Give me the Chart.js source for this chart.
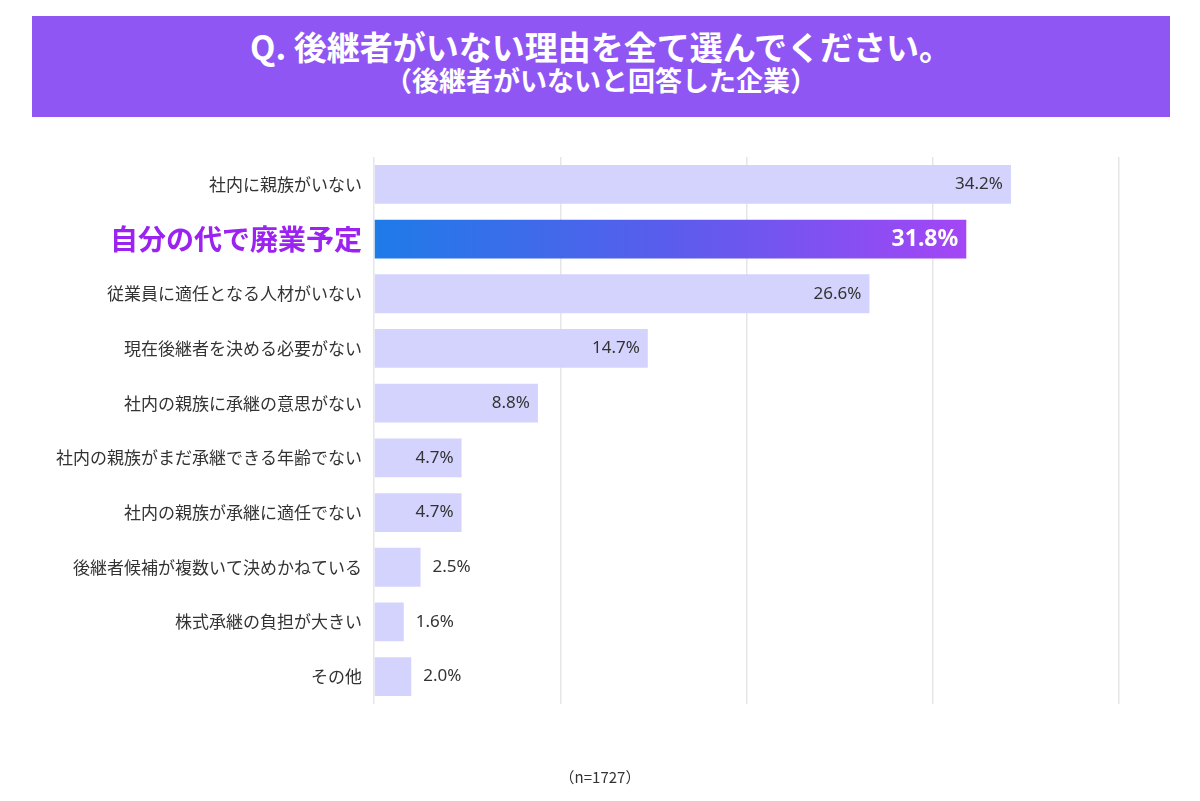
<!DOCTYPE html>
<html lang="ja">
<head>
<meta charset="utf-8">
<title>後継者がいない理由</title>
<script src="https://cdn.jsdelivr.net/npm/chart.js@4"></script>
<style>
  html, body { margin: 0; padding: 0; background: #fff; }
  #wrap { position: relative; width: 1200px; height: 801px; overflow: hidden; }
  #header {
    position: absolute; left: 32px; top: 16px; width: 1138px; height: 101px;
    background: #8f56f4; color: #fff; text-align: center;
    font-family: "Noto Sans CJK JP", sans-serif; font-weight: 700;
  }
  #header .q { position: absolute; left: 0; right: 0; top: 13px; font-size: 33px; line-height: 34px; }
  #header .sub { position: absolute; left: 0; right: 0; top: 50px; font-size: 27px; line-height: 28px; }
  #note {
    position: absolute; left: 0; right: 0; top: 766px; text-align: center;
    font-family: "Noto Sans CJK JP", sans-serif; font-size: 15px; color: #333;
  }
  canvas { position: absolute; left: 0; top: 0; }
</style>
</head>
<body>
<div id="wrap">
  <canvas id="reasonChart" width="1200" height="801"></canvas>
  <div id="header">
    <div class="q">Q. 後継者がいない理由を全て選んでください。</div>
    <div class="sub">（後継者がいないと回答した企業）</div>
  </div>
  <div id="note">（n=1727）</div>
</div>
<script>
const reasons = [
  "社内に親族がいない",
  "自分の代で廃業予定",
  "従業員に適任となる人材がいない",
  "現在後継者を決める必要がない",
  "社内の親族に承継の意思がない",
  "社内の親族がまだ承継できる年齢でない",
  "社内の親族が承継に適任でない",
  "後継者候補が複数いて決めかねている",
  "株式承継の負担が大きい",
  "その他"
];
const shares = [34.2, 31.8, 26.6, 14.7, 8.8, 4.7, 4.7, 2.5, 1.6, 2.0];
const xTicks = [0, 10, 20, 30, 40];
const highlightIndex = 1;

const labelFont = "'Noto Sans', sans-serif";

function barColor(ctx) {
  if (ctx.dataIndex !== highlightIndex) return "#d3d3fd";
  const chart = ctx.chart;
  const x = chart.scales.x;
  if (!x || !chart.chartArea) return "#5b5ff0";
  const x0 = x.getPixelForValue(0);
  const x1 = x.getPixelForValue(shares[highlightIndex]);
  const g = chart.ctx.createLinearGradient(x0, 0, x1, 0);
  g.addColorStop(0, "#1e7be8");
  g.addColorStop(0.5, "#5a5cec");
  g.addColorStop(1, "#a446f5");
  return g;
}

// value labels: inside the bar end for long bars, just outside for short ones
const valueLabels = {
  id: "valueLabels",
  afterDatasetsDraw(chart) {
    const ctx = chart.ctx;
    const meta = chart.getDatasetMeta(0);
    ctx.save();
    ctx.textBaseline = "middle";
    meta.data.forEach((bar, i) => {
      const v = shares[i];
      const text = v.toFixed(1) + "%";
      if (i === highlightIndex) {
        ctx.font = "bold 23px " + labelFont;
        ctx.fillStyle = "#ffffff";
        ctx.textAlign = "right";
        ctx.fillText(text, bar.x - 8, bar.y);
      } else if (v >= 3) {
        ctx.font = "17px " + labelFont;
        ctx.fillStyle = "#333333";
        ctx.textAlign = "right";
        ctx.fillText(text, bar.x - 8, bar.y);
      } else {
        ctx.font = "17px " + labelFont;
        ctx.fillStyle = "#333333";
        ctx.textAlign = "left";
        ctx.fillText(text, bar.x + 12, bar.y);
      }
    });
    ctx.restore();
  }
};

new Chart(document.getElementById("reasonChart"), {
  type: "bar",
  data: {
    labels: reasons,
    datasets: [{
      data: shares,
      backgroundColor: barColor,
      borderWidth: 0,
      barPercentage: 0.71,
      categoryPercentage: 1.0
    }]
  },
  options: {
    indexAxis: "y",
    responsive: false,
    animation: false,
    layout: { padding: { left: 0, right: 81, top: 157, bottom: 97 } },
    scales: {
      x: {
        min: 0,
        max: 40,
        afterBuildTicks(scale) {
          scale.ticks = xTicks.map(v => ({ value: v }));
        },
        ticks: { display: false },
        grid: { color: "#e6e6e6", lineWidth: 1.5, drawTicks: false },
        border: { display: false }
      },
      y: {
        afterFit(scale) { scale.width = 374; },
        grid: { display: false, drawTicks: false },
        border: { display: false },
        ticks: {
          padding: 12,
          color(ctx) { return ctx.index === highlightIndex ? "#9b22f0" : "#333333"; },
          font(ctx) {
            return ctx.index === highlightIndex
              ? { family: "'Noto Sans CJK JP', sans-serif", size: 28, weight: "bold" }
              : { family: "'Noto Sans CJK JP', sans-serif", size: 17 };
          }
        }
      }
    },
    plugins: {
      legend: { display: false },
      tooltip: { enabled: false }
    }
  },
  plugins: [valueLabels]
});
</script>
</body>
</html>
